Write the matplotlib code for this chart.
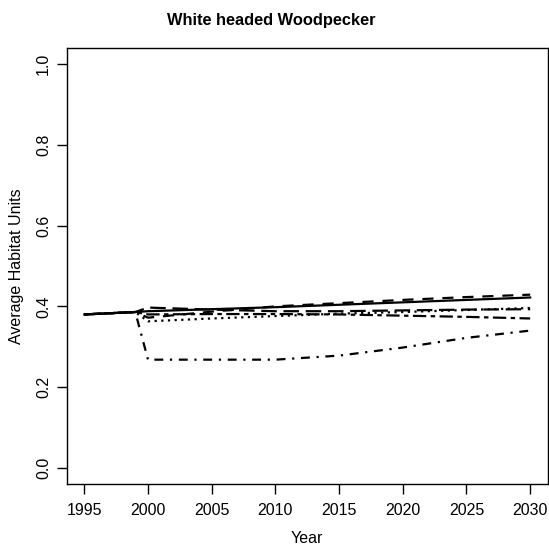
import matplotlib

matplotlib.use("Agg")
import matplotlib.pyplot as plt

# Values
years = [1995, 1999, 2000, 2005, 2010, 2015, 2020, 2025, 2030]
solid = [0.380, 0.386, 0.388, 0.393, 0.398, 0.404, 0.410, 0.416, 0.422]
dashed = [0.380, 0.386, 0.372, 0.387, 0.400, 0.408, 0.416, 0.423, 0.429]
dotted = [0.380, 0.386, 0.363, 0.370, 0.376, 0.382, 0.386, 0.391, 0.396]
dotdash = [0.380, 0.386, 0.268, 0.268, 0.268, 0.278, 0.298, 0.322, 0.340]
longdash = [0.380, 0.386, 0.397, 0.392, 0.388, 0.388, 0.390, 0.392, 0.393]
twodash = [0.380, 0.386, 0.380, 0.381, 0.381, 0.380, 0.377, 0.374, 0.370]

x_ticks = [1995, 2000, 2005, 2010, 2015, 2020, 2025, 2030]
y_ticks = [0.0, 0.2, 0.4, 0.6, 0.8, 1.0]

plt.rcParams["font.family"] = ["Liberation Sans", "DejaVu Sans"]

fig = plt.figure(figsize=(5.49, 5.5), dpi=100)
ax = fig.add_axes([66.5 / 549, 1 - 484 / 550, (548 - 66.5) / 549, (484 - 48) / 550])

lw = 1.6
ax.plot(years, solid, color="black", lw=lw, linestyle="-")
ax.plot(years, dashed, color="black", lw=lw, linestyle=(0, (5, 4)))
ax.plot(years, dotted, color="black", lw=lw, linestyle=(0, (1, 2)))
ax.plot(years, dotdash, color="black", lw=lw, linestyle=(0, (1, 3, 4, 3)))
ax.plot(years, longdash, color="black", lw=lw, linestyle=(0, (7, 3)))
ax.plot(years, twodash, color="black", lw=lw, linestyle=(0, (2, 2, 6, 2)))

ax.set_xlim(1995 - 1.4, 2030 + 1.4)
ax.set_ylim(-0.04, 1.04)
ax.set_xticks(x_ticks)
ax.set_yticks(y_ticks)
ax.set_yticklabels([f"{v:.1f}" for v in y_ticks], rotation=90, va="center")

ax.tick_params(direction="out", length=7, width=1, labelsize=11.5)
ax.tick_params(axis="x", pad=7)
ax.tick_params(axis="y", pad=4)
for s in ax.spines.values():
    s.set_linewidth(1)

ax.set_xlabel("Year", fontsize=11.5, labelpad=9)
ax.set_ylabel("Average Habitat Units", fontsize=11.5, labelpad=9)
fig.suptitle("White headed Woodpecker", x=271 / 549, y=1 - 20 / 550,
             va="center", fontsize=11.8, fontweight="bold")

fig.savefig("out.png", dpi=100)
